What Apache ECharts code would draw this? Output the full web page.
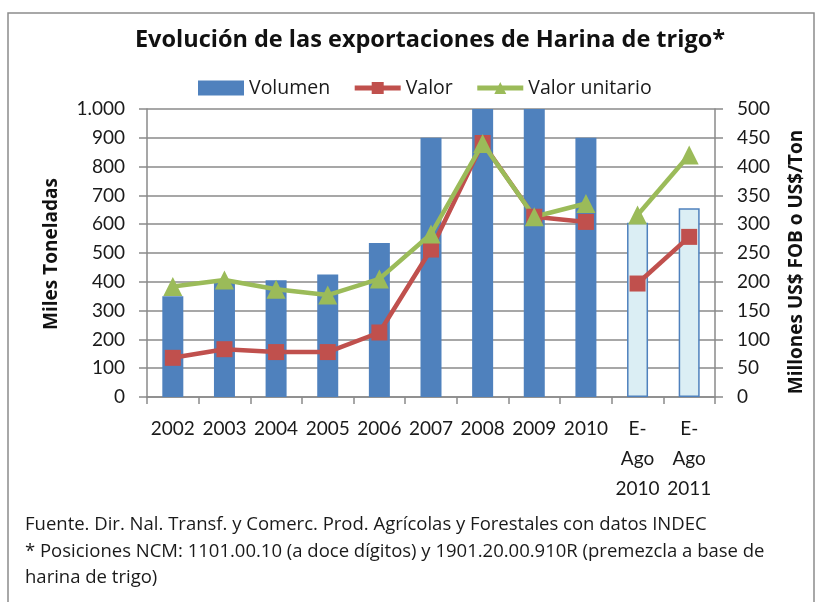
<!DOCTYPE html>
<html>
<head>
<meta charset="utf-8">
<script src="https://cdn.jsdelivr.net/npm/echarts@6/dist/echarts.min.js"></script>
<style>
  html, body { margin: 0; padding: 0; background: #fff; }
  #chart { width: 821px; height: 602px; }
</style>
</head>
<body>
<div id="chart"></div>
<script>
  // datos
  let categories = ['2002', '2003', '2004', '2005', '2006', '2007', '2008', '2009', '2010', 'E-\nAgo\n2010', 'E-\nAgo\n2011']
  let volumen = [350, 400, 405, 425, 535, 900, 1000, 1000, 900, 605, 655]
  let valor = [68, 83, 78, 78, 112, 256, 441, 313, 304, '-', '-']
  let valorParcial = ['-', '-', '-', '-', '-', '-', '-', '-', '-', 197, 278]
  let valorUnitario = [192, 203, 187, 177, 205, 283, 440, 313, 336, '-', '-']
  let unitarioParcial = ['-', '-', '-', '-', '-', '-', '-', '-', '-', 316, 420]
  let leftTicks = [0, 100, 200, 300, 400, 500, 600, 700, 800, 900, 1000]
  let rightTicks = [0, 50, 100, 150, 200, 250, 300, 350, 400, 450, 500]
  let notas = [
    'Fuente. Dir. Nal. Transf. y Comerc. Prod. Agrícolas y Forestales con datos INDEC',
    '* Posiciones NCM: 1101.00.10 (a doce dígitos) y 1901.20.00.910R (premezcla a base de',
    'harina de trigo)'
  ]

  let font = 'Lato'
  let font2 = '"Open Sans"'
  let txt = '#1a1a1a'
  let gris = '#8a8a8a'
  let azul = '#4F81BD'
  let rojo = '#C0504D'
  let verde = '#9BBB59'

  let chart = echarts.init(document.getElementById('chart'))

  let barData = volumen.map((v, i) => {
    if (i >= 9) {
      return { value: v, itemStyle: { color: '#DBEEF4', borderColor: azul, borderWidth: 1.5 } }
    }
    return v
  })

  let lineStyle = (c) => ({ color: c, width: 4.5 })

  let option = {
    animation: false,
    textStyle: { fontFamily: font },
    grid: { left: 147, right: 106, top: 109, bottom: 205, containLabel: false },
    legend: {
      left: 193,
      top: 73,
      itemWidth: 46,
      itemHeight: 15,
      itemGap: 22,
      lineStyle: { width: 5 },
      textStyle: { fontFamily: 'Open Sans', fontSize: 19.5, color: txt, padding: [0, 0, 0, 0] },
      data: [{ name: 'Volumen', icon: 'rect' }, 'Valor', 'Valor unitario']
    },
    xAxis: {
      type: 'category',
      data: categories,
      boundaryGap: true,
      axisLine: { lineStyle: { color: gris, width: 1.5 } },
      axisTick: { show: true, length: 7, lineStyle: { color: gris, width: 1.5 } },
      axisLabel: {
        interval: 0,
        margin: 17,
        fontFamily: font,
        fontSize: 19,
        color: txt,
        lineHeight: 30
      },
      splitLine: { show: false }
    },
    yAxis: [
      {
        type: 'value',
        min: leftTicks[0],
        max: leftTicks[leftTicks.length - 1],
        interval: 100,
        axisLine: { show: true, lineStyle: { color: gris, width: 1.5 } },
        axisTick: { show: true, length: 8, lineStyle: { color: gris, width: 1.5 } },
        axisLabel: {
          margin: 22,
          fontFamily: font,
          fontSize: 19,
          color: txt,
          formatter: v => v >= 1000 ? (v / 1000) + '.' + String(v % 1000).padStart(3, '0') : String(v)
        },
        splitLine: { show: true, lineStyle: { color: gris, width: 1.5 } }
      },
      {
        type: 'value',
        min: rightTicks[0],
        max: rightTicks[rightTicks.length - 1],
        interval: 50,
        position: 'right',
        axisLine: { show: true, lineStyle: { color: gris, width: 1.5 } },
        axisTick: { show: true, length: 8, lineStyle: { color: gris, width: 1.5 } },
        axisLabel: { margin: 22, fontFamily: font, fontSize: 19, color: txt },
        splitLine: { show: false }
      }
    ],
    series: [
      {
        name: 'Volumen',
        type: 'bar',
        barWidth: 21,
        itemStyle: { color: azul },
        data: barData
      },
      {
        name: 'Valor',
        type: 'line',
        yAxisIndex: 1,
        symbol: 'rect',
        symbolSize: 16,
        itemStyle: { color: rojo },
        lineStyle: lineStyle(rojo),
        data: valor
      },
      {
        name: 'Valor',
        type: 'line',
        yAxisIndex: 1,
        symbol: 'rect',
        symbolSize: 16,
        itemStyle: { color: rojo },
        lineStyle: lineStyle(rojo),
        data: valorParcial
      },
      {
        name: 'Valor unitario',
        type: 'line',
        yAxisIndex: 1,
        symbol: 'triangle',
        symbolSize: 19,
        itemStyle: { color: verde },
        lineStyle: lineStyle(verde),
        data: valorUnitario
      },
      {
        name: 'Valor unitario',
        type: 'line',
        yAxisIndex: 1,
        symbol: 'triangle',
        symbolSize: 19,
        itemStyle: { color: verde },
        lineStyle: lineStyle(verde),
        data: unitarioParcial
      }
    ],
    graphic: [
      {
        type: 'rect',
        shape: { x: 8, y: 13, width: 806, height: 600 },
        style: { fill: 'none', stroke: '#8c8c8c', lineWidth: 1.5 },
        silent: true
      },
      {
        type: 'text',
        x: 430, y: 40,
        style: {
          text: 'Evolución de las exportaciones de Harina de trigo*',
          font: 'bold 23.5px ' + font2,
          fill: '#111',
          textAlign: 'center',
          textVerticalAlign: 'middle'
        }
      },
      {
        type: 'text',
        x: 52, y: 254,
        rotation: Math.PI / 2,
        style: {
          text: 'Miles Toneladas',
          font: 'bold 19px ' + font2,
          fill: '#111',
          textAlign: 'center',
          textVerticalAlign: 'middle'
        }
      },
      {
        type: 'text',
        x: 797, y: 262,
        rotation: Math.PI / 2,
        style: {
          text: 'Millones US$ FOB o US$/Ton',
          font: 'bold 19px ' + font2,
          fill: '#111',
          textAlign: 'center',
          textVerticalAlign: 'middle'
        }
      }
    ].concat(notas.map((t, i) => ({
      type: 'text',
      x: 25,
      y: 525 + i * 26.5,
      style: {
        text: t,
        font: '18.5px ' + font2,
        fill: txt,
        textAlign: 'left',
        textVerticalAlign: 'middle'
      }
    })))
  }

  chart.setOption(option)
</script>
</body>
</html>
